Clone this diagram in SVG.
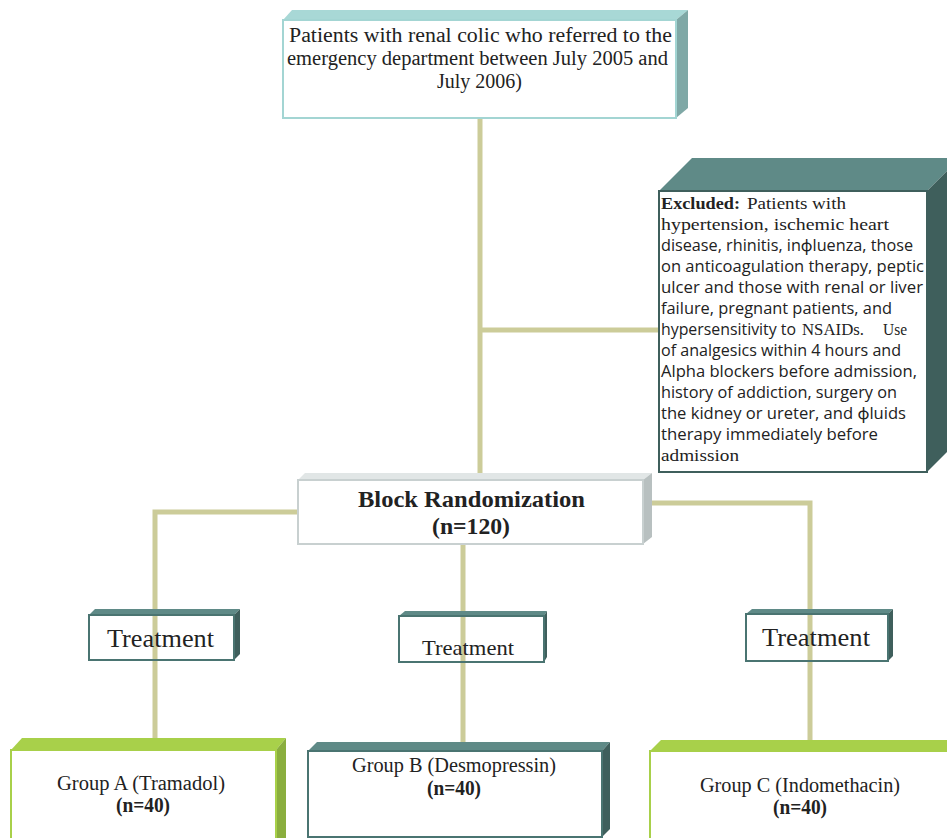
<svg xmlns="http://www.w3.org/2000/svg" width="947" height="838" viewBox="0 0 947 838">
<style>
.conn{stroke:#cccc99;stroke-width:5;fill:none}
.serif{font-family:"Liberation Serif","Times New Roman",serif;fill:#222}
.sans{font-family:"Open Sans","Noto Sans",sans-serif;fill:#222}
.b{font-weight:bold}
.ex{font-size:16px}
.exs{font-size:17px}
</style>
<g id="connectors">
<line class="conn" x1="480" y1="118" x2="480" y2="474"/>
<line class="conn" x1="480" y1="330" x2="660" y2="330"/>
<polyline class="conn" points="299,512 155,512 155,742"/>
<polyline class="conn" points="652,503 810,503 810,742"/>
<line class="conn" x1="463" y1="544" x2="463" y2="744"/>
</g>
<g id="node-patients">
<polygon points="283,20 292,10 688,10 676,20" fill="#a8d8d6"/>
<polygon points="676,20 688,10 688,108 676,118" fill="#7fa8a6"/>
<rect x="283" y="20" width="393" height="98" fill="#fff" stroke="#a3d5d3" stroke-width="2"/>
<text class="serif" font-size="20"><tspan x="289" y="42" textLength="383" lengthAdjust="spacingAndGlyphs">Patients with renal colic who referred to the</tspan><tspan x="287" y="65" textLength="381" lengthAdjust="spacingAndGlyphs">emergency department between July 2005 and</tspan><tspan x="437" y="88" textLength="85" lengthAdjust="spacingAndGlyphs">July 2006)</tspan></text>
</g>
<g id="node-excluded">
<polygon points="659,191 692,158 960,158 927,191" fill="#5f8a87"/>
<polygon points="927,191 960,158 960,439 927,472" fill="#3f5f5c"/>
<rect x="659" y="191" width="268" height="281" fill="#fff" stroke="#3f5f5c" stroke-width="2"/>
<text class="serif exs b" x="661" y="209" textLength="79" lengthAdjust="spacingAndGlyphs">Excluded:</text>
<text class="serif exs" x="747" y="209" textLength="99" lengthAdjust="spacingAndGlyphs">Patients with</text>
<text class="serif exs" x="661" y="230" textLength="228" lengthAdjust="spacingAndGlyphs">hypertension,  ischemic  heart</text>
<text class="sans ex" x="661" y="251" textLength="252" lengthAdjust="spacingAndGlyphs">disease, rhinitis,  inɸluenza, those</text>
<text class="sans ex" x="661" y="272" textLength="263" lengthAdjust="spacingAndGlyphs">on anticoagulation therapy, peptic</text>
<text class="sans ex" x="661" y="293" textLength="262" lengthAdjust="spacingAndGlyphs">ulcer and those with renal or liver</text>
<text class="sans ex" x="661" y="314" textLength="231" lengthAdjust="spacingAndGlyphs">failure, pregnant patients, and</text>
<text class="sans ex" x="661" y="335" textLength="135" lengthAdjust="spacingAndGlyphs">hypersensitivity to</text>
<text class="serif exs" x="802" y="335" textLength="62" lengthAdjust="spacingAndGlyphs">NSAIDs.</text>
<text class="serif exs" x="883" y="335" textLength="24" lengthAdjust="spacingAndGlyphs">Use</text>
<text class="sans ex" x="661" y="356" textLength="240" lengthAdjust="spacingAndGlyphs">of analgesics within 4 hours and</text>
<text class="sans ex" x="661" y="377" textLength="256" lengthAdjust="spacingAndGlyphs">Alpha blockers before admission,</text>
<text class="sans ex" x="661" y="398" textLength="236" lengthAdjust="spacingAndGlyphs">history of addiction, surgery on</text>
<text class="sans ex" x="661" y="419" textLength="245" lengthAdjust="spacingAndGlyphs">the kidney or ureter, and ɸluids</text>
<text class="sans ex" x="661" y="440" textLength="217" lengthAdjust="spacingAndGlyphs">therapy immediately before</text>
<text class="serif exs" x="661" y="461" textLength="78" lengthAdjust="spacingAndGlyphs">admission</text>
</g>
<g id="node-randomization">
<polygon points="298,480 305,473 652,473 643,480" fill="#e1e6e6"/>
<polygon points="643,480 652,473 652,537 643,544" fill="#b8c0c0"/>
<rect x="298" y="480" width="345" height="64" fill="#fff" stroke="#c8d0d0" stroke-width="2"/>
<text class="serif b" font-size="24"><tspan x="358" y="507" textLength="227" lengthAdjust="spacingAndGlyphs">Block Randomization</tspan><tspan x="432" y="534" textLength="78" lengthAdjust="spacingAndGlyphs">(n=120)</tspan></text>
</g>
<g id="node-treatment-a">
<polygon points="89,615 95,609 240,609 234,615" fill="#5f8a87"/>
<polygon points="234,615 240,609 240,654 234,660" fill="#3f5f5c"/>
<rect x="89" y="615" width="145" height="45" fill="none" stroke="#4a7471" stroke-width="2"/>
<text class="serif" font-size="26" x="107" y="647" textLength="107" lengthAdjust="spacingAndGlyphs">Treatment</text>
</g>
<g id="node-treatment-b">
<polygon points="399,616 405,611 547,611 544,616" fill="#5f8a87"/>
<polygon points="544,616 547,611 547,657 544,662" fill="#3f5f5c"/>
<rect x="399" y="616" width="145" height="46" fill="none" stroke="#4a7471" stroke-width="2"/>
<text class="serif" font-size="22" x="422" y="655" textLength="92" lengthAdjust="spacingAndGlyphs">Treatment</text>
</g>
<g id="node-treatment-c">
<polygon points="746,614 752,609 893,609 888,614" fill="#5f8a87"/>
<polygon points="888,614 893,609 893,656 888,661" fill="#3f5f5c"/>
<rect x="746" y="614" width="142" height="47" fill="none" stroke="#4a7471" stroke-width="2"/>
<text class="serif" font-size="26" x="762" y="646" textLength="108" lengthAdjust="spacingAndGlyphs">Treatment</text>
</g>
<g id="node-group-a">
<polygon points="11,750 22,738 286,738 276,750" fill="#a8d04a"/>
<polygon points="276,750 286,738 286,838 276,838" fill="#8aae3e"/>
<rect x="11" y="750" width="265" height="100" fill="#fff" stroke="#a8d04a" stroke-width="2"/>
<text class="serif" font-size="20"><tspan x="57" y="790" textLength="168" lengthAdjust="spacingAndGlyphs">Group A (Tramadol)</tspan><tspan x="116" y="812" class="b" textLength="54" lengthAdjust="spacingAndGlyphs">(n=40)</tspan></text>
</g>
<g id="node-group-b">
<polygon points="308,751 317,742 610,742 602,751" fill="#5f8a87"/>
<polygon points="602,751 610,742 610,829 602,837" fill="#3f5f5c"/>
<rect x="308" y="751" width="294" height="86" fill="#fff" stroke="#4a7471" stroke-width="2"/>
<text class="serif" font-size="20"><tspan x="352" y="772" textLength="204" lengthAdjust="spacingAndGlyphs">Group B (Desmopressin)</tspan><tspan x="427" y="795" class="b" textLength="54" lengthAdjust="spacingAndGlyphs">(n=40)</tspan></text>
</g>
<g id="node-group-c">
<polygon points="650,751 661,740 960,740 950,751" fill="#a8d04a"/>
<rect x="650" y="751" width="310" height="100" fill="#fff" stroke="#a8d04a" stroke-width="2"/>
<text class="serif" font-size="20"><tspan x="700" y="792" textLength="200" lengthAdjust="spacingAndGlyphs">Group C (Indomethacin)</tspan><tspan x="773" y="814" class="b" textLength="54" lengthAdjust="spacingAndGlyphs">(n=40)</tspan></text>
</g>
</svg>
